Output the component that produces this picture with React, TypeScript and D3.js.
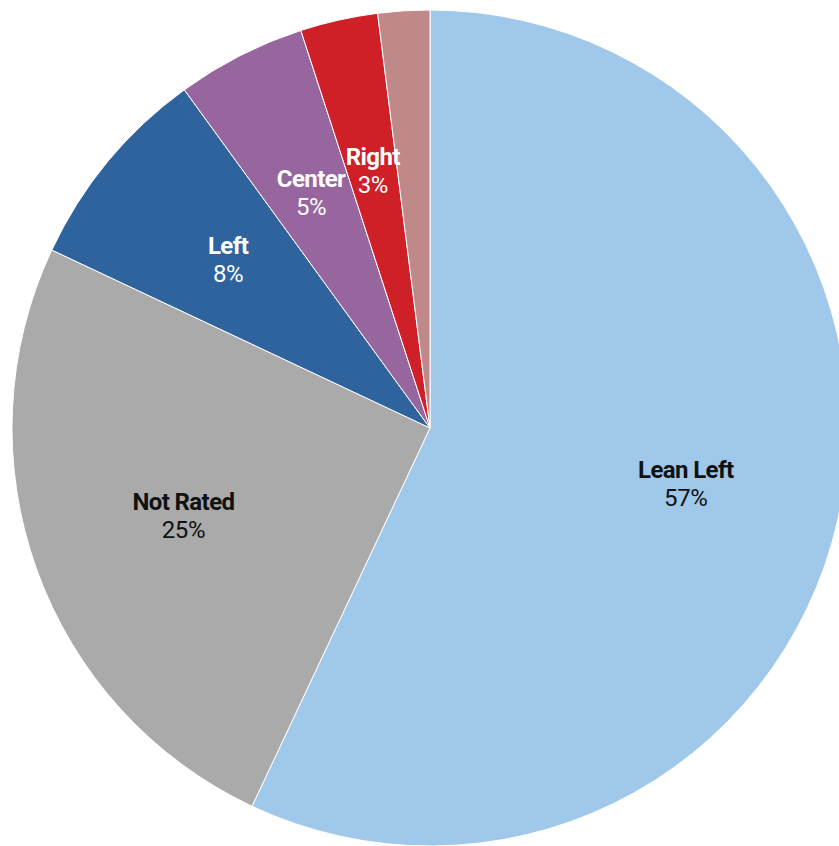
import React from 'react';
import * as d3 from 'd3';

const categories = ['Lean Left', 'Not Rated', 'Left', 'Center', 'Right', 'Lean Right'];
const shares = [57, 25, 8, 5, 3, 2];
const showLabel = [true, true, true, true, true, false];
const sliceColors = ['#9fc8ea', '#aaaaaa', '#2e639e', '#97669f', '#cf2027', '#bf8889'];
const labelColors = ['#111111', '#111111', '#ffffff', '#ffffff', '#ffffff', '#ffffff'];

interface ISlice {
  name: string;
  value: number;
  index: number;
}

const App = () => {
  const width = 839,
    height = 846;
  const cx = 430,
    cy = 428,
    radius = 418;

  const data: ISlice[] = categories.map((name, i) => ({ name, value: shares[i], index: i }));

  const pie = d3
    .pie<ISlice>()
    .value((d) => d.value)
    .sort(null);
  const arcs = pie(data);

  const arc = d3.arc<d3.PieArcDatum<ISlice>>().innerRadius(0).outerRadius(radius);
  const labelArc = d3
    .arc<d3.PieArcDatum<ISlice>>()
    .innerRadius(radius * 0.627)
    .outerRadius(radius * 0.627);

  return (
    <svg
      width={width}
      height={height}
      style={{ position: 'absolute', left: 0, top: 0, fontFamily: 'Roboto, sans-serif' }}
    >
      <g transform={`translate(${cx},${cy})`}>
        {arcs.map((a) => (
          <path
            key={a.data.name}
            d={arc(a) as string}
            fill={sliceColors[a.index]}
            stroke='#ffffff'
            strokeWidth={1}
          />
        ))}
        {arcs
          .filter((a) => showLabel[a.index])
          .map((a) => {
            const [lx, ly] = labelArc.centroid(a);
            return (
              <text
                key={'l' + a.data.name}
                x={lx}
                y={ly}
                textAnchor='middle'
                fill={labelColors[a.index]}
                fontSize={24}
              >
                <tspan x={lx} dy={-7} fontWeight={700} letterSpacing={-0.6}>
                  {a.data.name}
                </tspan>
                <tspan x={lx} dy={28} fontWeight={400} letterSpacing={-0.4}>
                  {a.data.value + '%'}
                </tspan>
              </text>
            );
          })}
      </g>
    </svg>
  );
};

export default App;
